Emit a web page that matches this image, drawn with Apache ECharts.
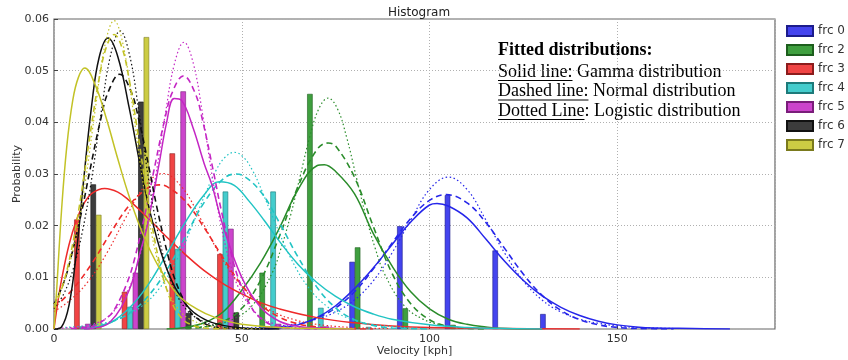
<!DOCTYPE html>
<html>
<head>
<meta charset="utf-8">
<script src="https://cdn.jsdelivr.net/npm/echarts@6/dist/echarts.min.js"></script>
<style>
  html, body { margin: 0; padding: 0; background: #fff; }
  #chart { width: 848px; height: 360px; }
</style>
</head>
<body>
<div id="chart"></div>
<script>
// histogram bins (kph)
const binStart = 1.2;
const binWidth = 12.7;

const names = ['frc 0', 'frc 2', 'frc 3', 'frc 4', 'frc 5', 'frc 6', 'frc 7'];

// probability per bin
const frc0 = [0, 0, 0, 0, 0, 0, 0.0130, 0.0199, 0.0259, 0.0152, 0.0029];
const frc2 = [0, 0, 0, 0, 0.0109, 0.0455, 0.0158, 0.0040, 0.0008, 0, 0];
const frc3 = [0.0212, 0.0072, 0.0340, 0.0145, 0.0005, 0.0003, 0, 0, 0, 0, 0];
const frc4 = [0.0005, 0.0043, 0.0155, 0.0266, 0.0266, 0.0041, 0.0004, 0, 0, 0, 0];
const frc5 = [0.0010, 0.0109, 0.0460, 0.0194, 0.0010, 0.0005, 0, 0, 0, 0, 0];
const frc6 = [0.0280, 0.0440, 0.0031, 0.0032, 0, 0, 0, 0, 0, 0, 0];
const frc7 = [0.0221, 0.0565, 0, 0, 0, 0, 0, 0, 0, 0, 0];

// fitted curves, [velocity, probability]
const gamma0 = [[55,0],[60,0.0002],[65,0.0008],[70,0.0022],[75,0.0045],[80,0.0078],[85,0.0118],[90,0.0163],[95,0.0207],[100,0.0240],[102,0.0243],[105,0.0238],[110,0.0215],[115,0.0174],[120,0.0131],[125,0.0094],[130,0.0064],[135,0.0042],[140,0.0026],[145,0.0015],[150,0.0008],[155,0.0004],[160,0.0002],[170,0.0001],[180,0]];
const normal0 = [[55,0.0001],[60,0.0004],[65,0.0009],[70,0.0021],[75,0.0041],[80,0.0072],[85,0.0116],[90,0.0166],[95,0.0214],[100,0.0249],[104.5,0.0260],[110,0.0244],[115,0.0206],[120,0.0156],[125,0.0106],[130,0.0065],[135,0.0036],[140,0.0018],[145,0.0008],[150,0.0003],[155,0.0001],[165,0]];
const logistic0 = [[45,0.0001],[50,0.0002],[55,0.0003],[60,0.0006],[65,0.0011],[70,0.0019],[75,0.0033],[80,0.0056],[85,0.0093],[90,0.0147],[95,0.0211],[100,0.0270],[105,0.0294],[110,0.0270],[115,0.0211],[120,0.0147],[125,0.0093],[130,0.0056],[135,0.0033],[140,0.0019],[145,0.0011],[150,0.0006],[155,0.0003],[165,0.0001]];

const gamma2 = [[30,0],[35,0.0003],[40,0.0012],[45,0.0033],[50,0.0075],[55,0.0128],[60,0.0195],[65,0.0270],[70,0.0316],[72,0.0318],[75,0.0305],[80,0.0262],[85,0.0185],[90,0.0122],[95,0.0072],[100,0.0039],[105,0.0019],[110,0.0009],[115,0.0004],[120,0.0001],[130,0]];
const normal2 = [[35,0.0001],[40,0.0004],[45,0.0014],[50,0.0040],[55,0.0094],[60,0.0179],[65,0.0276],[70,0.0347],[73,0.0360],[75,0.0354],[80,0.0294],[85,0.0199],[90,0.0108],[95,0.0049],[100,0.0018],[105,0.0005],[110,0.0001],[115,0]];
const logistic2 = [[38,0.0003],[43,0.0008],[48,0.0020],[53,0.0047],[58,0.0107],[60.5,0.0157],[63,0.0220],[65.5,0.0294],[68,0.0369],[70.5,0.0426],[73,0.0447],[75.5,0.0426],[78,0.0369],[80.5,0.0294],[83,0.0220],[85.5,0.0157],[88,0.0107],[93,0.0047],[98,0.0020],[103,0.0008],[108,0.0003],[118,0.0001]];

const gamma3 = [[0,0],[1,0.0051],[2,0.0095],[4,0.0163],[6,0.0211],[8,0.0243],[10,0.0262],[13.5,0.0272],[17,0.0265],[20,0.0249],[25,0.0215],[30,0.0178],[35,0.0144],[40,0.0113],[45,0.0088],[50,0.0068],[55,0.0051],[60,0.0039],[70,0.0022],[80,0.0012],[90,0.0006],[100,0.0003],[120,0.0001],[140,0]];
const normal3 = [[0,0.0041],[5,0.0077],[10,0.0126],[15,0.0185],[20,0.0239],[25,0.0273],[28,0.0279],[30,0.0276],[35,0.0247],[40,0.0196],[45,0.0138],[50,0.0085],[55,0.0047],[60,0.0023],[65,0.0010],[70,0.0004],[75,0.0001],[85,0]];
const logistic3 = [[0,0.0034],[4,0.0054],[9,0.0091],[14,0.0146],[19,0.0214],[24,0.0275],[29,0.0301],[34,0.0275],[39,0.0214],[44,0.0146],[49,0.0091],[54,0.0054],[59,0.0031],[64,0.0018],[69,0.0010],[79,0.0003],[89,0.0001]];

const gamma4 = [[8,0],[10,0.0002],[15,0.0012],[20,0.0040],[25,0.0085],[30,0.0145],[35,0.0207],[40,0.0260],[44,0.0285],[48,0.0278],[52,0.0247],[56,0.0210],[60,0.0170],[65,0.0125],[70,0.0090],[75,0.0063],[80,0.0043],[85,0.0029],[90,0.0019],[100,0.0008],[110,0.0003],[120,0.0001],[130,0]];
const normal4 = [[10,0.0002],[15,0.0013],[20,0.0030],[25,0.0063],[30,0.0114],[35,0.0179],[40,0.0245],[45,0.0290],[48.5,0.0300],[50,0.0298],[55,0.0266],[60,0.0206],[65,0.0139],[70,0.0081],[75,0.0041],[80,0.0018],[85,0.0007],[90,0.0002],[100,0]];
const logistic4 = [[3,0.0003],[8,0.0006],[13,0.0011],[18,0.0022],[23,0.0042],[28,0.0078],[33,0.0138],[38,0.0221],[40.5,0.0265],[43,0.0305],[45.5,0.0332],[48,0.0342],[50.5,0.0332],[53,0.0305],[55.5,0.0265],[58,0.0221],[63,0.0138],[68,0.0078],[73,0.0042],[78,0.0022],[83,0.0011],[88,0.0006],[98,0.0001]];

const gamma5 = [[8,0],[10,0.0001],[15,0.0014],[20,0.0075],[23,0.0150],[25,0.0205],[28,0.0320],[30,0.0400],[32,0.0446],[34,0.0442],[37,0.0390],[40,0.0320],[42,0.0280],[45,0.0200],[50,0.0100],[55,0.0042],[60,0.0015],[65,0.0005],[70,0.0002],[80,0]];
const normal5 = [[4.5,0.0001],[9.5,0.0004],[14.5,0.0024],[16.5,0.0043],[19.5,0.0090],[21.5,0.0137],[24.5,0.0231],[26.5,0.0303],[29.5,0.0406],[31.5,0.0458],[34.5,0.0490],[37.5,0.0458],[39.5,0.0406],[42.5,0.0303],[44.5,0.0231],[47.5,0.0137],[49.5,0.0090],[52.5,0.0043],[54.5,0.0024],[59.5,0.0004],[64.5,0.0001],[70,0]];
const logistic5 = [[0,0.0001],[4.6,0.0003],[9.6,0.0008],[14.6,0.0025],[19.6,0.0074],[22.1,0.0122],[24.6,0.0196],[27.1,0.0297],[29.6,0.0414],[32.1,0.0514],[34.6,0.0555],[37.1,0.0514],[39.6,0.0414],[42.1,0.0297],[44.6,0.0196],[47.1,0.0122],[49.6,0.0074],[54.6,0.0025],[59.6,0.0008],[64.6,0.0003],[74.6,0.0001]];

const gamma6 = [[0,0],[2,0.0004],[4,0.0046],[6,0.0151],[8,0.0296],[10,0.0431],[12,0.0525],[14.4,0.0563],[17,0.0527],[20,0.0429],[23,0.0315],[26,0.0214],[30,0.0117],[35,0.0049],[40,0.0019],[45,0.0007],[50,0.0002],[60,0]];
const normal6 = [[0,0.0048],[2.5,0.0088],[4.5,0.0138],[7.5,0.0232],[9.5,0.0305],[12.5,0.0408],[14.5,0.0460],[17.5,0.0493],[20.5,0.0460],[22.5,0.0408],[25.5,0.0305],[27.5,0.0232],[30.5,0.0138],[32.5,0.0090],[35.5,0.0043],[37.5,0.0024],[42.5,0.0004],[47.5,0.0001],[55,0]];
const logistic6 = [[0,0.0039],[2.6,0.0068],[5.1,0.0116],[7.6,0.0190],[10.1,0.0294],[12.6,0.0421],[15.1,0.0531],[17.6,0.0577],[20.1,0.0531],[22.6,0.0421],[25.1,0.0294],[27.6,0.0190],[30.1,0.0116],[32.6,0.0068],[35.1,0.0039],[37.6,0.0023],[42.6,0.0007],[47.6,0.0002],[57.6,0]];

const gamma7 = [[0,0],[0.7,0.0075],[2,0.0229],[3.4,0.0353],[5,0.0443],[6.5,0.0487],[8.2,0.0505],[11,0.0472],[14,0.0406],[17,0.0329],[20,0.0257],[24,0.0178],[28,0.0119],[33,0.0066],[38,0.0039],[43,0.0022],[50,0.0009],[60,0.0003],[70,0.0001],[80,0]];
const normal7 = [[0,0.0042],[2,0.0077],[4,0.0131],[6,0.0205],[8,0.0297],[10,0.0395],[12,0.0484],[14,0.0547],[16,0.0570],[18,0.0547],[20,0.0484],[22,0.0395],[24,0.0297],[26,0.0205],[28,0.0131],[30,0.0077],[32,0.0042],[34,0.0021],[36,0.0010],[40,0.0002],[46,0]];
const logistic7 = [[0,0.0048],[1,0.0063],[3.5,0.0110],[6,0.0184],[8.5,0.0293],[11,0.0426],[13.5,0.0547],[16,0.0597],[18.5,0.0547],[21,0.0426],[23.5,0.0293],[26,0.0184],[28.5,0.0110],[31,0.0063],[33.5,0.0035],[36,0.0020],[41,0.0006],[46,0.0002],[56,0]];

const xTicks = [0, 50, 100, 150];

const barData = [frc0, frc2, frc3, frc4, frc5, frc6, frc7];
const gammaFits = [gamma0, gamma2, gamma3, gamma4, gamma5, gamma6, gamma7];
const normalFits = [normal0, normal2, normal3, normal4, normal5, normal6, normal7];
const logisticFits = [logistic0, logistic2, logistic3, logistic4, logistic5, logistic6, logistic7];

const fillColors = ['#4444ee', '#3f9f3f', '#f04444', '#44cccc', '#cc44cc', '#3c3c3c', '#cccc44'];
const edgeColors = ['#1c1c8c', '#1d5e1d', '#8c1c1c', '#1d7a7a', '#7a1d7a', '#111111', '#7a7a1d'];
const lineColors = ['#2626ea', '#2a8c2a', '#ee2a2a', '#22c4c4', '#c426c4', '#111111', '#c2c226'];

const barSeries = names.map((name, s) => ({
  type: 'bar',
  name: name,
  barWidth: 5.5,
  barGap: '-100%',
  z: 2,
  data: barData[s]
    .map((v, b) => [binStart + binWidth * (b + 0.1 + (s + 0.5) * 0.8 / names.length), v])
    .filter(d => d[1] > 0),
  itemStyle: { color: fillColors[s], borderColor: edgeColors[s], borderWidth: 0.6 }
}));

function fitLine(data, s, dash, width) {
  return {
    type: 'line',
    name: names[s] + ' fit',
    data: data,
    symbol: 'none',
    smooth: 0.4,
    silent: true,
    z: 3,
    lineStyle: { color: lineColors[s], width: width, type: dash }
  };
}

const lineSeries = [];
names.forEach((n, s) => {
  lineSeries.push(fitLine(gammaFits[s], s, 'solid', 1.5));
  lineSeries.push(fitLine(normalFits[s], s, [6, 4], 1.6));
  lineSeries.push(fitLine(logisticFits[s], s, [1.5, 2.5], 1.2));
});

// annotation text with underlined lead words
const noteFont = '18px "Liberation Serif", "Times New Roman", serif';
const measure = document.createElement('canvas').getContext('2d');
measure.font = noteFont;
const noteX = 498;
const noteRows = [
  { lead: 'Solid line:', rest: ' Gamma distribution', under: 'Solid line:', base: 78 },
  { lead: 'Dashed line:', rest: ' Normal distribution', under: 'Dashed line:', base: 97.5 },
  { lead: 'Dotted Line:', rest: ' Logistic distribution', under: 'Dotted Line', base: 117 }
];
const graphics = [{
  type: 'text', x: noteX, y: 56 - 6,
  style: { text: 'Fitted distributions:', font: 'bold ' + noteFont, fill: '#000', verticalAlign: 'middle' }
}];
noteRows.forEach(r => {
  const leadW = measure.measureText(r.lead).width;
  const underW = measure.measureText(r.under).width;
  graphics.push({ type: 'text', x: noteX, y: r.base - 6,
    style: { text: r.lead, font: noteFont, fill: '#000', verticalAlign: 'middle' } });
  graphics.push({ type: 'text', x: noteX + leadW, y: r.base - 6,
    style: { text: r.rest, font: noteFont, fill: '#000', verticalAlign: 'middle' } });
  graphics.push({ type: 'line', shape: { x1: noteX, y1: r.base + 2.5, x2: noteX + underW, y2: r.base + 2.5 },
    style: { stroke: '#000', lineWidth: 1 } });
});

const chart = echarts.init(document.getElementById('chart'), null, { renderer: 'canvas' });
chart.setOption({
  animation: false,
  backgroundColor: '#fff',
  textStyle: { fontFamily: 'DejaVu Sans' },
  title: {
    text: 'Histogram',
    left: 414, top: 2, textAlign: 'center',
    textStyle: { fontSize: 12, fontWeight: 'normal', color: '#222', fontFamily: 'DejaVu Sans' }
  },
  grid: {
    left: 54, right: 73, top: 19, bottom: 31,
    outerBoundsMode: 'none',
    containLabel: false,
    show: true, borderColor: '#666', borderWidth: 1.2, backgroundColor: 'transparent'
  },
  legend: {
    data: names,
    orient: 'vertical',
    left: 781, top: 20,
    itemWidth: 26, itemHeight: 10, itemGap: 7,
    icon: 'rect',
    textStyle: { fontSize: 12, color: '#333', fontFamily: 'DejaVu Sans' }
  },
  xAxis: {
    type: 'value',
    min: 0, max: 192, interval: 50,
    name: 'Velocity [kph]', nameLocation: 'middle', nameGap: 17,
    nameMoveOverlap: false,
    nameTextStyle: { fontSize: 11, color: '#333' },
    axisLine: { show: false },
    axisTick: { show: true, inside: true, length: 4, lineStyle: { color: '#444' } },
    axisLabel: {
      fontSize: 11, color: '#333', margin: 5,
      showMaxLabel: false,
      formatter: v => (xTicks.indexOf(v) >= 0 ? String(v) : '')
    },
    splitLine: { show: true, lineStyle: { type: [1, 2], color: '#b0b0b0', width: 1 } }
  },
  yAxis: {
    type: 'value',
    min: 0, max: 0.06, interval: 0.01,
    name: 'Probability', nameLocation: 'middle', nameGap: 31, nameRotate: 90,
    nameMoveOverlap: false,
    nameTextStyle: { fontSize: 11, color: '#333' },
    axisLine: { show: false },
    axisTick: { show: true, inside: true, length: 4, lineStyle: { color: '#444' } },
    axisLabel: { fontSize: 11, color: '#333', margin: 5, formatter: v => v.toFixed(2) },
    splitLine: { show: true, lineStyle: { type: [1, 2], color: '#b0b0b0', width: 1 } }
  },
  graphic: graphics,
  series: barSeries.concat(lineSeries)
});
</script>
</body>
</html>
